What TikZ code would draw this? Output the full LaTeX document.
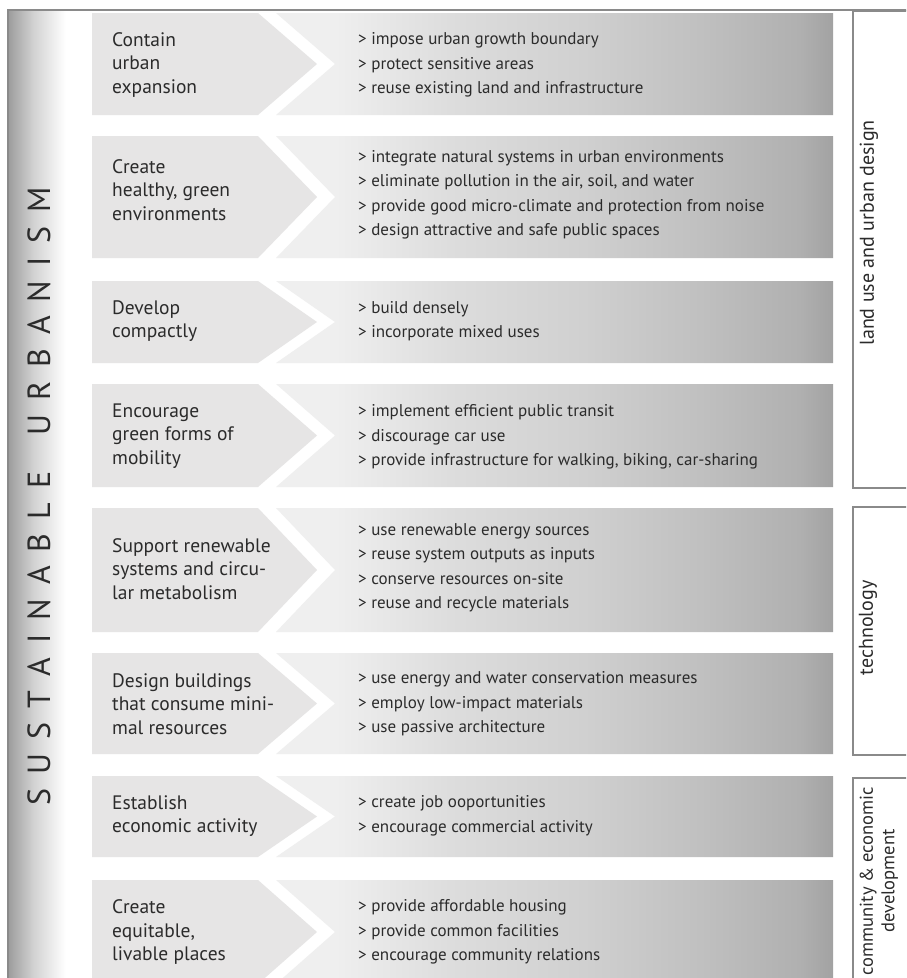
\documentclass[tikz,border=0pt]{standalone}
\usepackage{fontspec}
\setmainfont{PT Sans}
\definecolor{txt}{HTML}{2B2B2B}
\definecolor{frm}{HTML}{8A8A8A}
\definecolor{leftc}{HTML}{E6E5E5}
\definecolor{cA}{HTML}{EFEFEF}
\definecolor{cB}{HTML}{DDDDDD}
\definecolor{cC}{HTML}{D0D0D0}
\definecolor{cD}{HTML}{C0C0C0}
\definecolor{cE}{HTML}{B0B0B0}
\definecolor{cF}{HTML}{A2A2A2}
\definecolor{bA}{HTML}{9C9C9C}
\definecolor{bB}{HTML}{D2D2D2}
\pgfdeclarehorizontalshading{rowshade}{100bp}{color(0bp)=(cA); color(25bp)=(cA); color(30.3bp)=(cA); color(40.6bp)=(cB); color(52.6bp)=(cC); color(63.1bp)=(cD); color(72bp)=(cE); color(75bp)=(cF); color(100bp)=(cF)}
\pgfdeclarehorizontalshading{barshade}{100bp}{color(0bp)=(bA); color(25bp)=(bA); color(45bp)=(bB); color(70bp)=(white); color(100bp)=(white)}
\newcommand\chevrow[2]{%
  \fill[leftc] (92,#1) -- (258,#1) -- (317,{(#1+#2)/2}) -- (258,#2) -- (92,#2) -- cycle;
  \shade[shading=rowshade] (276,#1) -- (833,#1) -- (833,#2) -- (276,#2) -- (335,{(#1+#2)/2}) -- cycle;}
\begin{document}
\begin{tikzpicture}[x=1pt,y=-1pt,
  lab/.style={anchor=west, align=left, text=txt, font=\fontsize{19.5}{23.5}\selectfont, inner sep=0pt},
  itm/.style={anchor=west, align=left, text=txt, font=\fontsize{17}{24.5}\selectfont, inner sep=0pt},
  side/.style={rotate=90, text=txt, font=\fontsize{20}{23}\selectfont, align=center, inner sep=0pt},
  frame/.style={draw=frm, line width=1.3pt}]
\useasboundingbox (0,0) rectangle (906,978);
\begin{scope}
\clip (0,0) rectangle (906,978);
\fill[white] (0,0) rectangle (906,978);
% left bar
\shade[shading=barshade] (8,10) rectangle (72,990);
\draw[frame] (8,990) -- (8,10) -- (910,10);
% rows
\chevrow{13}{115}
\chevrow{136}{258}
\chevrow{281}{363}
\chevrow{384}{487}
\chevrow{508}{632}
\chevrow{653}{754}
\chevrow{776}{857}
\chevrow{880}{984}
% right boxes
\draw[frame] (915,11) -- (853,11) -- (853,488) -- (915,488);
\draw[frame] (915,507) -- (853,507) -- (853,755) -- (915,755);
\draw[frame] (915,778) -- (853,778) -- (853,990);
\node[side] (lu) at (869,233) {land use and urban design};
\node[side] (te) at (868,628) {technology};
\node[side, font=\fontsize{18.5}{21.5}\selectfont] (ce) at (879,881) {community \& economic\\development};
% title
\node[rotate=90, text=txt, inner sep=0pt, font=\fontsize{32}{34}\selectfont] (title) at (39,496)
  {\makebox[618pt]{S\hfill U\hfill S\hfill T\hfill A\hfill I\hfill N\hfill A\hfill B\hfill L\hfill E\hspace{0pt plus 2.6fill}U\hfill R\hfill B\hfill A\hfill N\hfill I\hfill S\hfill M}};
% labels
\node[lab] (l1) at (112,65) {Contain\\urban\\expansion};
\node[itm] (i1) at (358,65) {> impose urban growth boundary\\> protect sensitive areas\\> reuse existing land and infrastructure};
\node[lab] (l2) at (112,190) {Create\\healthy, green\\environments};
\node[itm] (i2) at (358,195) {> integrate natural systems in urban environments\\> eliminate pollution in the air, soil, and water\\> provide good micro-climate and protection from noise\\> design attractive and safe public spaces};
\node[lab] (l3) at (112,321) {Develop\\compactly};
\node[itm] (i3) at (358,321) {> build densely\\> incorporate mixed uses};
\node[lab] (l4) at (112,436) {Encourage\\green forms of\\mobility};
\node[itm] (i4) at (358,437) {> implement efficient public transit\\> discourage car use\\> provide infrastructure for walking, biking, car-sharing};
\node[lab] (l5) at (112,569) {Support renewable\\systems and circu-\\lar metabolism};
\node[itm] (i5) at (358,568) {> use renewable energy sources\\> reuse system outputs as inputs\\> conserve resources on-site\\> reuse and recycle materials};
\node[lab] (l6) at (112,704) {Design buildings\\that consume mini-\\mal resources};
\node[itm] (i6) at (358,704) {> use energy and water conservation measures\\> employ low-impact materials\\> use passive architecture};
\node[lab] (l7) at (112,816) {Establish\\economic activity};
\node[itm] (i7) at (358,816) {> create job ooportunities\\> encourage commercial activity};
\node[lab] (l8) at (112,932) {Create\\equitable,\\livable places};
\node[itm] (i8) at (358,932) {> provide affordable housing\\> provide common facilities\\> encourage community relations};
\end{scope}
\end{tikzpicture}
\end{document}
